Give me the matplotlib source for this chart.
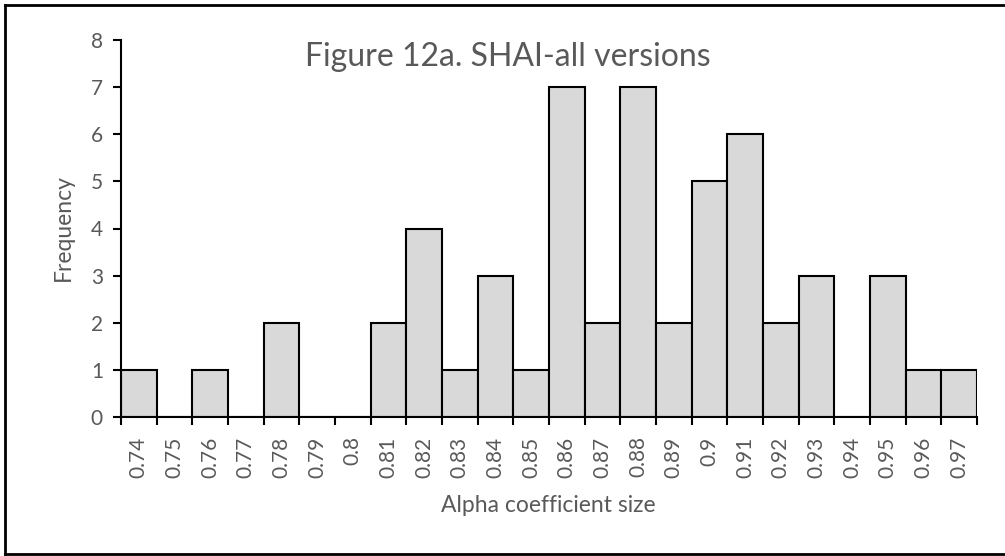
import numpy as np
import matplotlib.pyplot as plt
from matplotlib.lines import Line2D

plt.rcParams['font.family'] = ['Lato', 'DejaVu Sans']

# alpha coefficient bins and counts
alpha_bins = ['0.74', '0.75', '0.76', '0.77', '0.78', '0.79', '0.8', '0.81',
              '0.82', '0.83', '0.84', '0.85', '0.86', '0.87', '0.88', '0.89',
              '0.9', '0.91', '0.92', '0.93', '0.94', '0.95', '0.96', '0.97']
frequency = [1, 0, 1, 0, 2, 0, 0, 2, 4, 1, 3, 1, 7, 2, 7, 2, 5, 6, 2, 3, 0, 3, 1, 1]
y_ticks = [0, 1, 2, 3, 4, 5, 6, 7, 8]

txt = '#595959'
W, H = 1005, 556

fig = plt.figure(figsize=(W / 100, H / 100), dpi=100)
ax = fig.add_axes([121 / W, 1 - 417 / H, (977 - 121) / W, (417 - 40) / H])

x = np.arange(len(alpha_bins))
ax.bar(x, frequency, width=1.0, color='#d9d9d9', edgecolor='black', linewidth=1.5)

ax.set_xlim(-0.5, len(alpha_bins) - 0.5)
ax.set_ylim(0, 8)
ax.set_yticks(y_ticks)
ax.set_yticklabels([str(v) for v in y_ticks])

# ticks at bin edges, labels at bin centres (excel style)
ax.set_xticks(np.arange(len(alpha_bins) + 1) - 0.5)
ax.set_xticklabels([])
ax.set_xticks(x, minor=True)
ax.set_xticklabels(alpha_bins, minor=True, rotation=90)
ax.tick_params(axis='x', which='major', length=6, width=1.5, color='black')
ax.tick_params(axis='x', which='minor', length=0, pad=14, labelsize=15, labelcolor=txt)
ax.tick_params(axis='y', length=6, width=1.5, color='black', labelsize=15,
               labelcolor=txt, pad=7)

for s in ['top', 'right']:
    ax.spines[s].set_visible(False)
for s in ['left', 'bottom']:
    ax.spines[s].set_linewidth(1.5)

fig.text(63 / W, 1 - 228 / H, 'Frequency', fontsize=16.5, color=txt,
         rotation=90, ha='center', va='center')
fig.text(548 / W, 1 - 505 / H, 'Alpha coefficient size', fontsize=16.5,
         color=txt, ha='center', va='center')
fig.text(508 / W, 1 - 57 / H, 'Figure 12a. SHAI-all versions', fontsize=23,
         color=txt, ha='center', va='center')

# outer frame
fig.add_artist(Line2D([5 / W, 1], [1 - 5 / H] * 2, color='black', linewidth=2))
fig.add_artist(Line2D([5 / W] * 2, [1 - 5 / H, 1 - 554 / H], color='black', linewidth=2))
fig.add_artist(Line2D([5 / W, 1], [1 - 554 / H] * 2, color='black', linewidth=2))

fig.savefig('out.png', dpi=100)
